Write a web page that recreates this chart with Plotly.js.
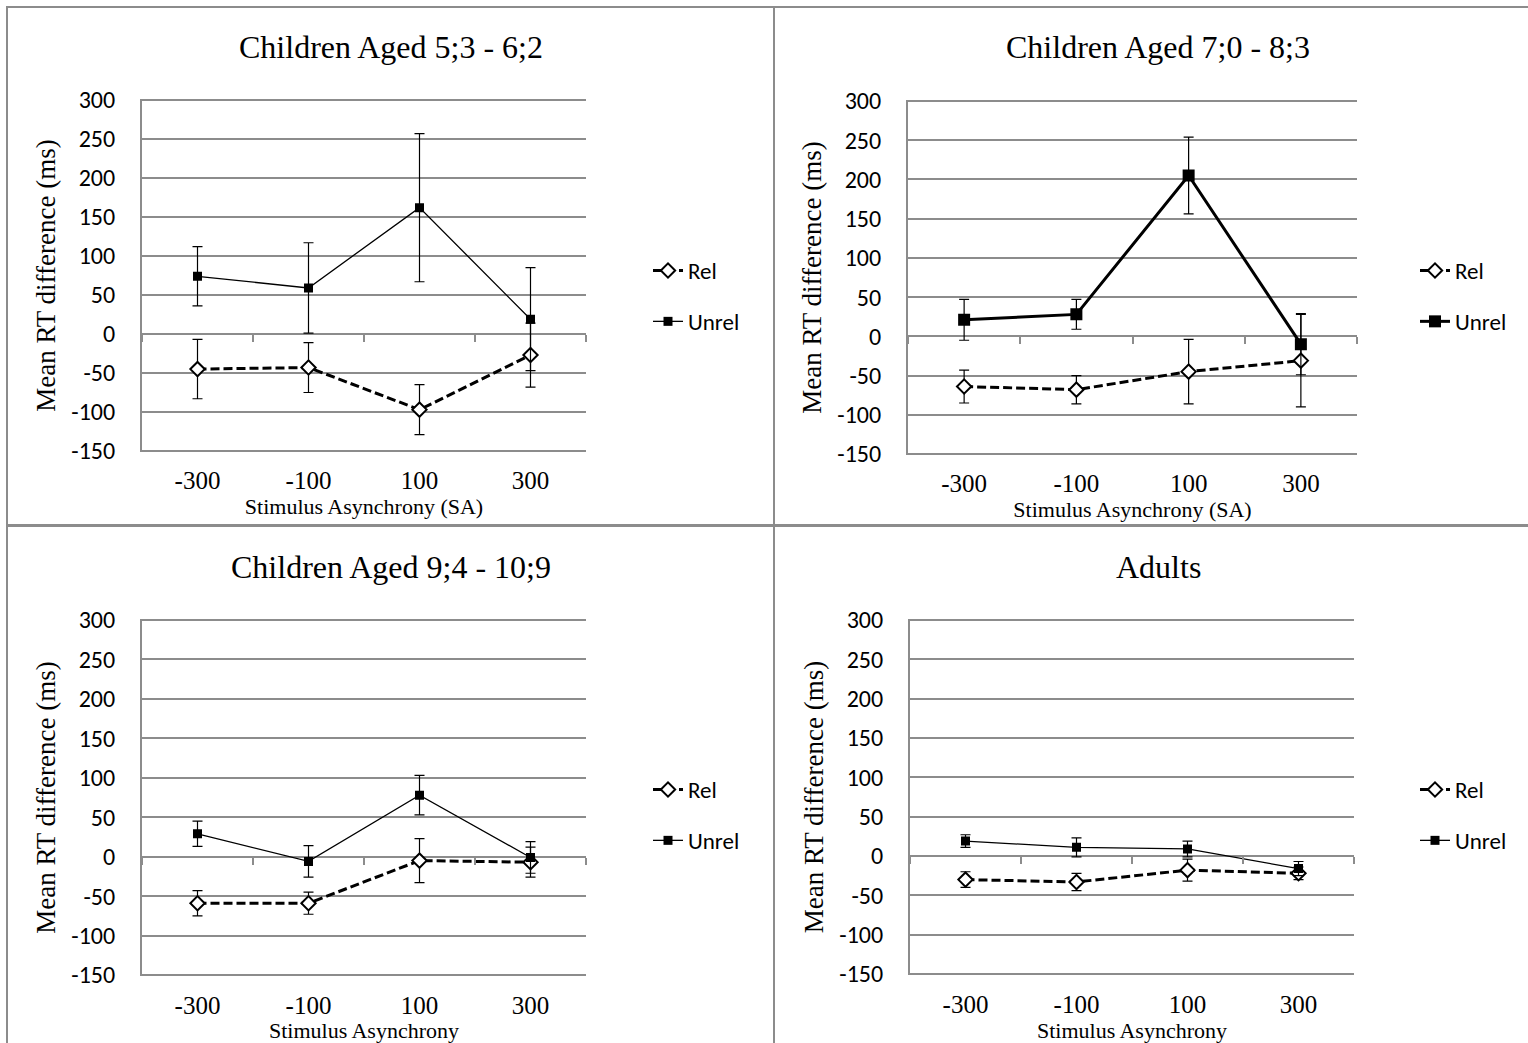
<!DOCTYPE html>
<html>
<head>
<meta charset="utf-8">
<script src="https://cdn.plot.ly/plotly-3.0.1.min.js"></script>
<style>html,body{margin:0;padding:0;background:#fff;}#chart{width:1528px;height:1043px;}</style>
</head>
<body>
<div id="chart"></div>
<script>
// ---- data ----
const categories = ['-300', '-100', '100', '300'];
const panelTitles = ['Children Aged 5;3 - 6;2', 'Children Aged 7;0 - 8;3', 'Children Aged 9;4 - 10;9', 'Adults'];
const xAxisTitles = ['Stimulus Asynchrony (SA)', 'Stimulus Asynchrony (SA)', 'Stimulus Asynchrony', 'Stimulus Asynchrony'];
const yAxisTitle = 'Mean RT difference (ms)';
const seriesNames = ['Rel', 'Unrel'];
const yTickVals = [-150, -100, -50, 0, 50, 100, 150, 200, 250, 300];
const yTickText = ['-150', '-100', '-50', '0', '50', '100', '150', '200', '250', '300'];

const rel1 = [-45, -43, -97, -27];
const relErr1 = [38, 32, 32, 41];
const unrel1 = [74, 59, 162, 19];
const unrelErr1 = [38, 58, 95, 66];

const rel2 = [-64, -68, -45, -31];
const relErr2 = [21, 18, 41, 59];
const unrel2 = [21, 28, 205, -10];
const unrelErr2 = [26, 19, 49, 39];

const rel3 = [-59, -59, -5, -7];
const relErr3 = [16, 14, 28, 19];
const unrel3 = [29, -6, 78, -1];
const unrelErr3 = [16, 20, 25, 20];

const rel4 = [-30, -33, -18, -22];
const relErr4 = [10, 11, 14, 8];
const unrel4 = [19, 11, 9, -16];
const unrelErr4 = [8, 12, 10, 9];

// ---- layout geometry (pixels) ----
const W = 1528, H = 1043;
const YMIN = -150, YMAX = 300, PAD = 1.5;
const panels = [
  {rel: rel1, relErr: relErr1, unrel: unrel1, unrelErr: unrelErr1, left: 142, right: 586, top: 100, bottom: 451, titleX: 391, titleY: 47, legX: 648, legY: 296, thick: false, tlen: 6},
  {rel: rel2, relErr: relErr2, unrel: unrel2, unrelErr: unrelErr2, left: 908, right: 1357, top: 101, bottom: 454, titleX: 1158, titleY: 47, legX: 1415, legY: 296, thick: true, tlen: 6},
  {rel: rel3, relErr: relErr3, unrel: unrel3, unrelErr: unrelErr3, left: 142, right: 586, top: 620, bottom: 975, titleX: 391, titleY: 567, legX: 648, legY: 815, thick: false, tlen: 7},
  {rel: rel4, relErr: relErr4, unrel: unrel4, unrelErr: unrelErr4, left: 910, right: 1354, top: 620, bottom: 974, titleX: 1158, titleY: 567, legX: 1415, legY: 815, thick: false, tlen: 7}
];

const GRID = '#8c8c8c';
const serif = '"Liberation Serif", "Times New Roman", serif';
const sans = 'Carlito, Lato, "Open Sans", sans-serif';

const data = [];
const layout = {
  width: W, height: H,
  margin: {l: 0, r: 0, t: 0, b: 0},
  paper_bgcolor: '#fff', plot_bgcolor: 'rgba(0,0,0,0)',
  showlegend: true,
  annotations: [],
  shapes: [
    {type: 'line', xref: 'paper', yref: 'paper', x0: 6 / W, x1: 1, y0: 1 - 7 / H, y1: 1 - 7 / H, line: {color: GRID, width: 2}},
    {type: 'line', xref: 'paper', yref: 'paper', x0: 7 / W, x1: 7 / W, y0: 0, y1: 1 - 6 / H, line: {color: GRID, width: 2}},
    {type: 'line', xref: 'paper', yref: 'paper', x0: 774 / W, x1: 774 / W, y0: 0, y1: 1 - 6 / H, line: {color: GRID, width: 2}},
    {type: 'line', xref: 'paper', yref: 'paper', x0: 6 / W, x1: 1, y0: 1 - 525.5 / H, y1: 1 - 525.5 / H, line: {color: GRID, width: 3}}
  ]
};

panels.forEach((p, i) => {
  const n = i + 1;
  const sfx = n === 1 ? '' : String(n);
  const xa = 'x' + sfx;
  const ya = 'y' + sfx;
  const tx = 'x' + (n + 4);
  const legName = 'legend' + sfx;
  const pxPerUnit = (p.bottom - p.top) / (YMAX - YMIN);
  const topPx = p.top - PAD * pxPerUnit;
  const botPx = p.bottom + PAD * pxPerUnit;
  const xd = [p.left / W, p.right / W];
  const yd = [1 - botPx / H, 1 - topPx / H];
  const zeroPos = 1 - (p.top + (YMAX - 0) * pxPerUnit) / H;

  // empty carrier trace so the zero-line tick axis gets drawn
  data.push({type: 'scatter', mode: 'markers', x: [], y: [], xaxis: tx, yaxis: ya, showlegend: false, hoverinfo: 'skip'});

  data.push({
    type: 'scatter', mode: 'lines+markers', name: seriesNames[0],
    x: categories, y: p.rel, xaxis: xa, yaxis: ya, legend: legName, legendgroup: 'rel' + n,
    line: {color: '#000', width: 3, dash: '9px,4px'},
    marker: {symbol: 'diamond', size: 11, color: '#fff', line: {color: '#000', width: 2}},
    error_y: {type: 'data', array: p.relErr, visible: true, color: '#000', thickness: 1.2, width: 5}
  });
  data.push({
    type: 'scatter', mode: 'lines+markers', name: seriesNames[1],
    x: categories, y: p.unrel, xaxis: xa, yaxis: ya, legend: legName, legendgroup: 'unrel' + n,
    line: {color: '#000', width: p.thick ? 3 : 1.3},
    marker: {symbol: 'square', size: p.thick ? 12 : 9, color: '#000'},
    error_y: {type: 'data', array: p.unrelErr, visible: true, color: '#000', thickness: 1.2, width: 5}
  });

  layout['xaxis' + sfx] = {
    domain: xd, anchor: ya, type: 'category', range: [-0.5, 3.5],
    showgrid: false, zeroline: false, showline: false,
    ticks: 'outside', ticklen: p.tlen, tickcolor: 'rgba(0,0,0,0)',
    tickfont: {family: serif, size: 25, color: '#000'},
    title: {text: xAxisTitles[i], font: {family: serif, size: 22, color: '#000'}, standoff: 0},
    automargin: false, fixedrange: true
  };
  layout['yaxis' + sfx] = {
    domain: yd, anchor: xa, range: [YMIN - PAD, YMAX + PAD], tickvals: yTickVals, ticktext: yTickText,
    showgrid: true, gridcolor: GRID, gridwidth: 2,
    zeroline: false,
    showline: true, linecolor: GRID, linewidth: 2,
    ticks: '', ticklabelstandoff: 20,
    tickfont: {family: sans, size: 24, color: '#000'},
    title: {text: yAxisTitle, font: {family: serif, size: 27, color: '#000'}, standoff: 8},
    automargin: false, fixedrange: true
  };
  // tick marks along the zero line, between categories
  layout['xaxis' + (n + 4)] = {
    domain: xd, anchor: 'free', position: zeroPos, overlaying: xa,
    type: 'linear', range: [-0.5, 3.5], tickvals: [-0.5, 0.5, 1.5, 2.5, 3.5],
    showticklabels: false, ticks: 'outside', ticklen: 7, tickwidth: 2, tickcolor: GRID,
    showgrid: false, zeroline: false, showline: false, fixedrange: true
  };

  layout[legName] = {
    x: p.legX / W, y: 1 - p.legY / H, xanchor: 'left', yanchor: 'middle',
    bgcolor: 'rgba(0,0,0,0)', borderwidth: 0,
    traceorder: 'grouped', tracegroupgap: 18,
    font: {family: sans, size: 23, color: '#000'}
  };

  layout.annotations.push({
    text: panelTitles[i], xref: 'paper', yref: 'paper',
    x: p.titleX / W, y: 1 - p.titleY / H, xanchor: 'center', yanchor: 'middle',
    showarrow: false, font: {family: serif, size: 32, color: '#000'}
  });
});

Plotly.newPlot('chart', data, layout, {displayModeBar: false, staticPlot: true});
</script>
</body>
</html>
